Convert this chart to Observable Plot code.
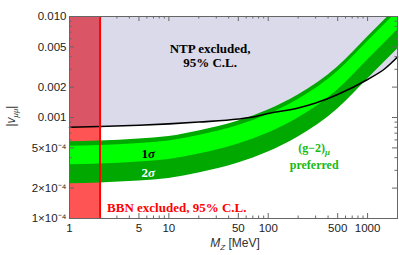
<!DOCTYPE html>
<html><head><meta charset="utf-8">
<script src="https://cdn.jsdelivr.net/npm/d3@7"></script>
<script src="https://cdn.jsdelivr.net/npm/@observablehq/plot@0.6"></script>
<style>
html,body{margin:0;padding:0;background:#fff;}
#chart svg{display:block;}
</style></head><body><div id="chart"></div>
<script>
// (g-2)_mu preferred bands
const massGrid    = [1, 2, 5, 10, 20, 50, 100, 200, 500, 1000, 2000];
const sigma2Upper = [5.76e-4, 5.85e-4, 6.13e-4, 6.48e-4, 7.35e-4, 9.23e-4, 1.187e-3, 1.671e-3, 3.162e-3, 6.27e-3, 1.242e-2];
const sigma1Upper = [5.20e-4, 5.28e-4, 5.53e-4, 5.85e-4, 6.63e-4, 8.33e-4, 1.071e-3, 1.507e-3, 2.853e-3, 5.65e-3, 1.121e-2];
const sigma1Lower = [3.41e-4, 3.46e-4, 3.63e-4, 3.84e-4, 4.35e-4, 5.47e-4, 7.02e-4, 9.89e-4, 1.872e-3, 3.71e-3, 7.35e-3];
const sigma2Lower = [2.21e-4, 2.25e-4, 2.35e-4, 2.49e-4, 2.82e-4, 3.54e-4, 4.55e-4, 6.41e-4, 1.214e-3, 2.405e-3, 4.77e-3];
// NTP exclusion limit
const ntpMass  = [1, 2, 5, 10, 20, 50, 75, 100, 200, 300, 500, 1000, 1500, 2000];
const ntpLimit = [8.02e-4, 8.14e-4, 8.37e-4, 8.64e-4, 9.02e-4, 9.66e-4, 1.023e-3, 1.096e-3, 1.242e-3, 1.392e-3, 1.690e-3, 2.378e-3, 3.056e-3, 3.97e-3];
// BBN excluded mass range (MeV)
const bbnRange = [1, 2.03];
// axes
const xDomain = [1, 2000];
const yDomain = [1e-4, 1e-2];
const xTicks = [1, 5, 10, 50, 100, 500, 1000];
const xMinorTicks = [2, 3, 4, 6, 7, 8, 9, 20, 30, 40, 60, 70, 80, 90, 200, 300, 400, 600, 700, 800, 900, 2000];
const yTicks = [1e-4, 2e-4, 5e-4, 1e-3, 2e-3, 5e-3, 1e-2];
const yTickLabels = ["1×10⁻⁴", "2×10⁻⁴", "5×10⁻⁴", "0.001", "0.002", "0.005", "0.010"];
const yMinorTicks = [3e-4, 4e-4, 6e-4, 7e-4, 8e-4, 9e-4, 3e-3, 4e-3, 6e-3, 7e-3, 8e-3, 9e-3];

const bands = massGrid.map((m, i) => ({m, u2: sigma2Upper[i], u1: sigma1Upper[i], l1: sigma1Lower[i], l2: sigma2Lower[i]}));
const ntp = ntpMass.map((m, i) => ({m, v: ntpLimit[i]}));

const W = 399, H = 255, mL = 69, mR = 2, mT = 16, mB = 37;
const iw = W - mL - mR, ih = H - mT - mB;
const tickCol = "#666";
const serif = "Liberation Serif, Times New Roman, serif";
const sans = "Liberation Sans, Arial, sans-serif";

const plot = Plot.plot({
  width: W, height: H,
  marginLeft: mL, marginRight: mR, marginTop: mT, marginBottom: mB,
  style: {fontFamily: sans, fontSize: "11.5px", background: "#fff"},
  x: {type: "log", domain: xDomain, axis: null},
  y: {type: "log", domain: yDomain, axis: null},
  marks: [
    Plot.rect([bbnRange], {x1: d => d[0], x2: d => d[1], y1: yDomain[0], y2: yDomain[1], fill: "#ff5454"}),
    Plot.areaY(ntp, {x: "m", y1: "v", y2: yDomain[1], fill: "#5e5ea8", fillOpacity: 0.23, curve: "monotone-x"}),
    Plot.areaY(bands, {x: "m", y1: "l2", y2: "u2", fill: "#00a800", curve: "monotone-x", clip: true}),
    Plot.areaY(bands, {x: "m", y1: "l1", y2: "u1", fill: "#00ff00", curve: "monotone-x", clip: true}),
    Plot.line(ntp, {x: "m", y: "v", stroke: "#000", strokeWidth: 1.6, curve: "monotone-x"}),
    Plot.ruleX([bbnRange[1]], {stroke: "#ff0000", strokeWidth: 2}),
    // ticks (inward, all four sides)
    Plot.tickX(xTicks, {x: d => d, insetTop: ih - 5, stroke: tickCol}),
    Plot.tickX(xTicks, {x: d => d, insetBottom: ih - 5, stroke: tickCol}),
    Plot.tickX(xMinorTicks, {x: d => d, insetTop: ih - 2.5, stroke: tickCol}),
    Plot.tickX(xMinorTicks, {x: d => d, insetBottom: ih - 2.5, stroke: tickCol}),
    Plot.tickY(yTicks, {y: d => d, insetRight: iw - 5, stroke: tickCol}),
    Plot.tickY(yTicks, {y: d => d, insetLeft: iw - 5, stroke: tickCol}),
    Plot.tickY(yMinorTicks, {y: d => d, insetRight: iw - 2.5, stroke: tickCol}),
    Plot.tickY(yMinorTicks, {y: d => d, insetLeft: iw - 2.5, stroke: tickCol}),
    Plot.frame({stroke: tickCol, strokeWidth: 1}),
    // tick labels
    Plot.text(xTicks, {x: d => d, frameAnchor: "bottom", lineAnchor: "top", dy: 5, text: d => String(d), fill: "#222", fontSize: 11.5}),
    Plot.text(yTicks, {y: d => d, frameAnchor: "left", textAnchor: "end", dx: -3, text: (d, i) => yTickLabels[i], fill: "#222", fontSize: 11.5}),
    // annotations
    Plot.text(["NTP excluded,\n95% C.L."], {x: 26, y: 4.1e-3, text: d => d, fontFamily: serif, fontWeight: "bold", fontSize: 13, lineHeight: 1.1, fill: "#000"}),
    Plot.text(["1"], {x: 6.2, y: 4.4e-4, text: d => d, fontFamily: serif, fontWeight: "bold", fontSize: 13, fill: "#000", className: "sig"}),
    Plot.text(["2"], {x: 6.2, y: 2.85e-4, text: d => d, fontFamily: serif, fontWeight: "bold", fontSize: 13, fill: "#fff", className: "sig"}),
    Plot.text(["(g−2)"], {x: 290, y: 4.93e-4, text: d => d, fontFamily: serif, fontWeight: "bold", fontSize: 12, fill: "#14bb14", className: "gm2"}),
    Plot.text(["preferred"], {x: 290, y: 3.35e-4, text: d => d, fontFamily: serif, fontWeight: "bold", fontSize: 12, fill: "#14bb14"}),
    Plot.text(["BBN excluded, 95% C.L."], {x: 2.39, y: 1.285e-4, text: d => d, textAnchor: "start", fontFamily: serif, fontWeight: "bold", fontSize: 13, fill: "#ff0000"})
  ]
});

document.getElementById("chart").appendChild(plot);
const svg = d3.select(plot);
// italic sigma and subscript mu
svg.selectAll("g.sig text").append("tspan").attr("font-style", "italic").text("σ");
svg.selectAll("g.gm2 text").append("tspan").attr("font-style", "italic").attr("font-size", 9).attr("dy", 3).text("μ");
// axis titles
const xl = svg.append("text").attr("x", 235).attr("y", 247).attr("text-anchor", "middle")
  .attr("font-family", sans).attr("font-size", 12).attr("fill", "#333");
xl.append("tspan").attr("font-style", "italic").text("M");
xl.append("tspan").attr("font-size", 8).attr("font-style", "italic").attr("dy", 3).text("Z");
xl.append("tspan").attr("dy", -3).text(" [MeV]");
const yl = svg.append("text").attr("transform", "translate(15,116) rotate(-90)").attr("text-anchor", "middle")
  .attr("font-family", sans).attr("font-size", 12).attr("fill", "#333");
yl.append("tspan").text("|");
yl.append("tspan").attr("font-style", "italic").text("v");
yl.append("tspan").attr("font-size", 8).attr("font-style", "italic").attr("dy", 3).text("μμ");
yl.append("tspan").attr("dy", -3).text("|");
</script></body></html>
